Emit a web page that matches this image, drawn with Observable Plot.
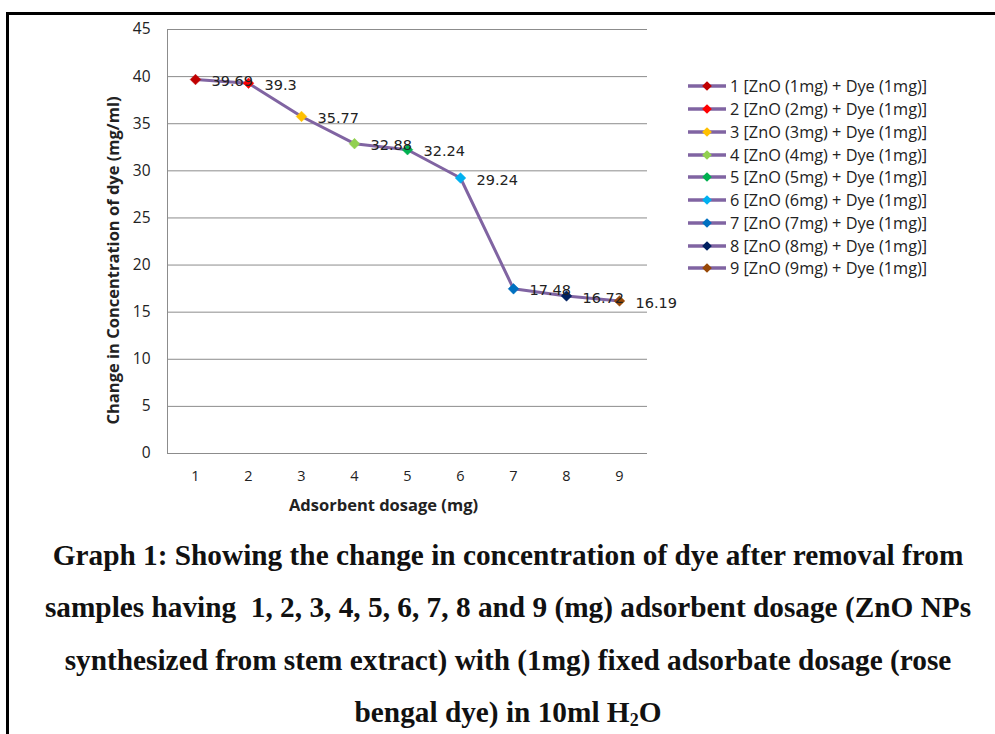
<!DOCTYPE html>
<html>
<head>
<meta charset="utf-8">
<script src="https://cdn.jsdelivr.net/npm/d3@7"></script>
<script src="https://cdn.jsdelivr.net/npm/@observablehq/plot@0.6"></script>
<style>
  html, body { margin: 0; padding: 0; background: #fff; }
  #wrap { position: relative; width: 995px; height: 734px; overflow: hidden; background: #fff; }
  #border { position: absolute; left: 6px; top: 12px; width: 2000px; height: 2000px; border-left: 3px solid #000; border-top: 3px solid #000; }
  #chart { position: absolute; left: 0; top: 0; }
  #legend { position: absolute; left: 687px; top: 75px; font-family: "Open Sans", sans-serif; font-size: 16.3px; color: #222; }
  .row { height: 22.75px; display: flex; align-items: center; white-space: nowrap; }
  .row svg { margin-right: 3px; }
  #caption { position: absolute; left: 8px; width: 1000px; top: 529px; text-align: center; font-family: "Liberation Serif", "Times New Roman", serif; font-weight: bold; font-size: 29.3px; line-height: 52.3px; color: #111; }
  #caption sub { font-size: 18px; vertical-align: -4px; line-height: 0; }
</style>
</head>
<body>
<div id="wrap">
  <div id="border"></div>
  <div id="chart"></div>
  <div id="legend"></div>
  <div id="caption">Graph 1: Showing the change in concentration of dye after removal from<br>samples having&nbsp; 1, 2, 3, 4, 5, 6, 7, 8 and 9 (mg) adsorbent dosage (ZnO NPs<br>synthesized from stem extract) with (1mg) fixed adsorbate dosage (rose<br>bengal dye) in 10ml H<sub>2</sub>O</div>
</div>
<script>
const dosage = [1, 2, 3, 4, 5, 6, 7, 8, 9];
const concentration = [39.69, 39.3, 35.77, 32.88, 32.24, 29.24, 17.48, 16.72, 16.19];
const valueLabels = ["39.69", "39.3", "35.77", "32.88", "32.24", "29.24", "17.48", "16.72", "16.19"];
const seriesNames = [
  "1 [ZnO (1mg) + Dye (1mg)]",
  "2 [ZnO (2mg) + Dye (1mg)]",
  "3 [ZnO (3mg) + Dye (1mg)]",
  "4 [ZnO (4mg) + Dye (1mg)]",
  "5 [ZnO (5mg) + Dye (1mg)]",
  "6 [ZnO (6mg) + Dye (1mg)]",
  "7 [ZnO (7mg) + Dye (1mg)]",
  "8 [ZnO (8mg) + Dye (1mg)]",
  "9 [ZnO (9mg) + Dye (1mg)]"
];
const markerColors = ["#C00000", "#FF0000", "#FFC000", "#92D050", "#00B050", "#00B0F0", "#0070C0", "#002060", "#984807"];
const yTicks = [0, 5, 10, 15, 20, 25, 30, 35, 40, 45];
const xTitle = "Adsorbent dosage (mg)";
const yTitle = "Change in Concentration of dye (mg/ml)";
const lineColor = "#8064A2";

const data = dosage.map((d, i) => ({dosage: d, value: concentration[i], label: valueLabels[i], name: seriesNames[i], color: markerColors[i]}));

const chart = Plot.plot({
  width: 995,
  height: 520,
  marginLeft: 167,
  marginRight: 348,
  marginTop: 29,
  marginBottom: 67,
  style: {fontFamily: "Open Sans, sans-serif", fontSize: "14px", color: "#222", background: "transparent"},
  x: {type: "point", domain: dosage, padding: 0.5},
  y: {domain: [0, 45], ticks: yTicks},
  marks: [
    Plot.gridY(yTicks, {stroke: "#8c8c8c", strokeOpacity: 1, strokeWidth: 1}),
    Plot.frame({anchor: "left", stroke: "#8c8c8c", strokeWidth: 1}),
    Plot.ruleY([0], {stroke: "#8c8c8c", strokeWidth: 1}),
    Plot.axisY(yTicks, {tickSize: 0, tickPadding: 17, label: null, fontSize: 15.5}),
    Plot.axisX(dosage, {tickSize: 0, tickPadding: 17, label: null, fontSize: 14.5}),
    Plot.line(data, {x: "dosage", y: "value", stroke: lineColor, strokeWidth: 3}),
    Plot.dot(data, {x: "dosage", y: "value", symbol: "diamond2", r: 4.8, fill: "color", stroke: "color", strokeWidth: 0.5}),
    Plot.text(data, {x: "dosage", y: "value", text: "label", dx: 16, dy: 2, textAnchor: "start", fontFamily: "DejaVu Sans, sans-serif", fontSize: 14.5, fill: "#222"}),
    Plot.text([xTitle], {frameAnchor: "bottom", dy: 52, dx: -24, textAnchor: "middle", lineAnchor: "middle", fontWeight: "bold", fontSize: 16.5, fill: "#222"}),
    Plot.text([yTitle], {frameAnchor: "left", dx: -54, dy: 19, rotate: -90, textAnchor: "middle", lineAnchor: "middle", fontWeight: "bold", fontSize: 16.5, fill: "#222"})
  ]
});
document.getElementById("chart").appendChild(chart);

const legend = d3.select("#legend");
data.forEach(d => {
  const row = legend.append("div").attr("class", "row");
  const s = row.append("svg").attr("width", 40).attr("height", 14);
  s.append("line").attr("x1", 1).attr("x2", 39).attr("y1", 7).attr("y2", 7).attr("stroke", lineColor).attr("stroke-width", 3.5);
  s.append("path").attr("d", d3.symbol(d3.symbolDiamond2, 60)()).attr("transform", "translate(20,7)").attr("fill", d.color);
  row.append("span").text(d.name);
});
</script>
</body>
</html>
